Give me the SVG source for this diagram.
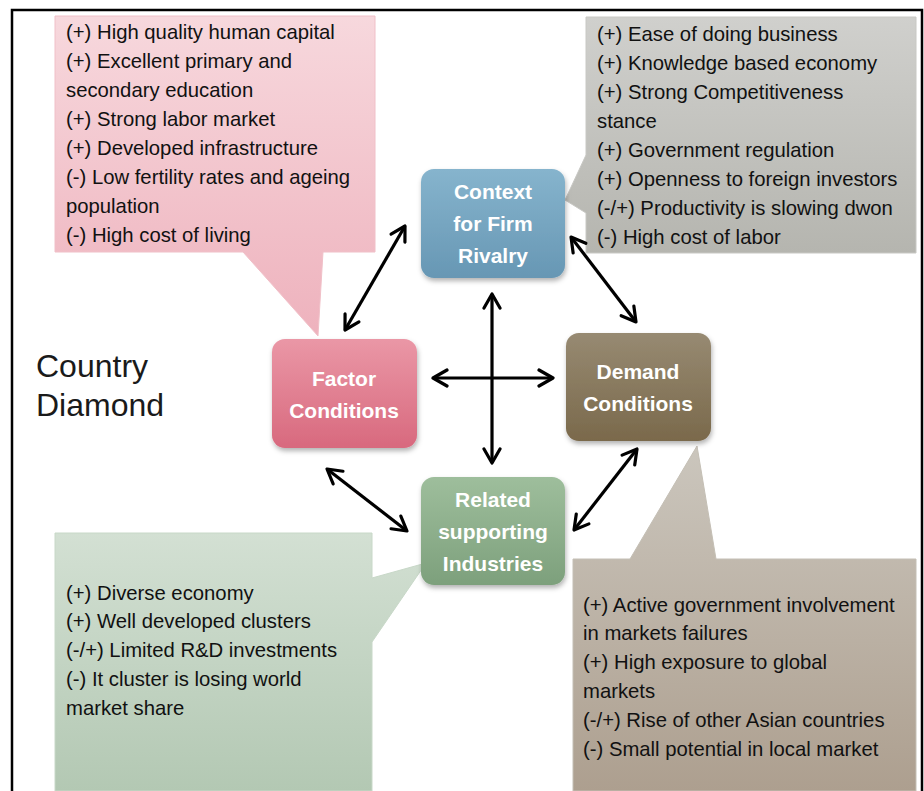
<svg xmlns="http://www.w3.org/2000/svg" width="924" height="791" viewBox="0 0 924 791">
<style>
.t{font-family:"Liberation Sans",Arial,sans-serif;font-size:20.3px;fill:#111}
.n{font-family:"Liberation Sans",Arial,sans-serif;font-size:21px;font-weight:bold;fill:#fff;text-anchor:middle}
.title{font-family:"Liberation Sans",Arial,sans-serif;font-size:32px;fill:#1a1a1a}
.c{stroke:#000;stroke-width:3.2;fill:none;marker-start:url(#h);marker-end:url(#h)}
</style>
<defs>
<marker id="h" viewBox="0 0 20 20" refX="17" refY="10" markerWidth="20" markerHeight="20" markerUnits="userSpaceOnUse" orient="auto-start-reverse">
<path d="M3,2 L17,10 L3,18" fill="none" stroke="#000" stroke-width="3.2" stroke-linecap="round" stroke-linejoin="round"/>
</marker>
<linearGradient id="gp" x1="0" y1="0" x2="0" y2="1"><stop offset="0" stop-color="#f7d8dd"/><stop offset="1" stop-color="#eeb2bd"/></linearGradient>
<linearGradient id="gg" x1="0" y1="0" x2="0" y2="1"><stop offset="0" stop-color="#d0d0cd"/><stop offset="1" stop-color="#b5b5af"/></linearGradient>
<linearGradient id="ggr" x1="0" y1="0" x2="0" y2="1"><stop offset="0" stop-color="#d3e0d3"/><stop offset="1" stop-color="#b3c8b3"/></linearGradient>
<linearGradient id="gb" x1="0" y1="0" x2="0" y2="1"><stop offset="0" stop-color="#cbc6bd"/><stop offset="1" stop-color="#ad9f8f"/></linearGradient>
<linearGradient id="nc" x1="0" y1="0" x2="0" y2="1"><stop offset="0" stop-color="#86b4cd"/><stop offset="1" stop-color="#6797b4"/></linearGradient>
<linearGradient id="nf" x1="0" y1="0" x2="0" y2="1"><stop offset="0" stop-color="#ea97a6"/><stop offset="1" stop-color="#d8697e"/></linearGradient>
<linearGradient id="nd" x1="0" y1="0" x2="0" y2="1"><stop offset="0" stop-color="#978a72"/><stop offset="1" stop-color="#7a694b"/></linearGradient>
<linearGradient id="nr" x1="0" y1="0" x2="0" y2="1"><stop offset="0" stop-color="#9ebe9c"/><stop offset="1" stop-color="#7da07c"/></linearGradient>
<filter id="sh" x="-10%" y="-10%" width="125%" height="130%"><feDropShadow dx="1" dy="3" stdDeviation="2.5" flood-color="#000" flood-opacity="0.3"/></filter>
</defs>
<rect x="0" y="0" width="924" height="791" fill="#fff"/>
<path d="M12,791 L12,10 L922,10 L922,791" fill="none" stroke="#000" stroke-width="2.5"/>

<g id="callout-factor">
<path d="M55,16 L375,16 L375,252 L323,252 L318,336 L243,252 L55,252 Z" fill="url(#gp)" stroke="#f0c0c8" stroke-width="1"/>
<text class="t" x="66" y="39">(+) High quality human capital</text>
<text class="t" x="66" y="68">(+) Excellent primary and</text>
<text class="t" x="66" y="97">secondary education</text>
<text class="t" x="66" y="126">(+) Strong labor market</text>
<text class="t" x="66" y="155">(+) Developed infrastructure</text>
<text class="t" x="66" y="184">(-) Low fertility rates and ageing</text>
<text class="t" x="66" y="213">population</text>
<text class="t" x="66" y="242">(-) High cost of living</text>
</g>

<g id="callout-context">
<path d="M586,17 L916,17 L916,253 L586,253 L586,213 L565,200 L586,155 Z" fill="url(#gg)" stroke="#c8c8c4" stroke-width="1"/>
<text class="t" x="597" y="41">(+) Ease of doing business</text>
<text class="t" x="597" y="70">(+) Knowledge based economy</text>
<text class="t" x="597" y="99">(+) Strong Competitiveness</text>
<text class="t" x="597" y="128">stance</text>
<text class="t" x="597" y="157">(+) Government regulation</text>
<text class="t" x="597" y="186">(+) Openness to foreign investors</text>
<text class="t" x="597" y="215">(-/+) Productivity is slowing dwon</text>
<text class="t" x="597" y="244">(-) High cost of labor</text>
</g>

<g id="callout-related">
<path d="M55,533 L372,533 L372,578 L426,563 L372,642 L372,791 L55,791 Z" fill="url(#ggr)" stroke="#c8d8c8" stroke-width="1"/>
<text class="t" x="66" y="600">(+) Diverse economy</text>
<text class="t" x="66" y="628">(+) Well developed clusters</text>
<text class="t" x="66" y="657">(-/+) Limited R&amp;D investments</text>
<text class="t" x="66" y="686">(-) It cluster is losing world</text>
<text class="t" x="66" y="715">market share</text>
</g>

<g id="callout-demand">
<path d="M573,559 L630,559 L697,446 L716,559 L916,559 L916,791 L573,791 Z" fill="url(#gb)" stroke="#c4bfb5" stroke-width="1"/>
<text class="t" x="583" y="612">(+) Active government involvement</text>
<text class="t" x="583" y="640">in markets failures</text>
<text class="t" x="583" y="669">(+) High exposure to global</text>
<text class="t" x="583" y="698">markets</text>
<text class="t" x="583" y="727">(-/+) Rise of other Asian countries</text>
<text class="t" x="583" y="756">(-) Small potential in local market</text>
</g>

<g id="title">
<text class="title" x="36" y="377">Country</text>
<text class="title" x="36" y="416">Diamond</text>
</g>

<g id="connectors">
<line class="c" x1="405" y1="226" x2="345" y2="330"/>
<line class="c" x1="571" y1="237" x2="636" y2="322"/>
<line class="c" x1="492" y1="294" x2="492" y2="463"/>
<line class="c" x1="433" y1="378" x2="553" y2="378"/>
<line class="c" x1="327" y1="469" x2="407" y2="531"/>
<line class="c" x1="637" y1="449" x2="574" y2="530"/>
</g>

<g id="node-context">
<rect x="421" y="169" width="144" height="109" rx="13" fill="url(#nc)" filter="url(#sh)"/>
<text class="n" x="493" y="199">Context</text>
<text class="n" x="493" y="231">for Firm</text>
<text class="n" x="493" y="263">Rivalry</text>
</g>

<g id="node-factor">
<rect x="272" y="339" width="145" height="109" rx="13" fill="url(#nf)" filter="url(#sh)"/>
<text class="n" x="344" y="386">Factor</text>
<text class="n" x="344" y="418">Conditions</text>
</g>

<g id="node-demand">
<rect x="566" y="333" width="145" height="108" rx="13" fill="url(#nd)" filter="url(#sh)"/>
<text class="n" x="638" y="379">Demand</text>
<text class="n" x="638" y="411">Conditions</text>
</g>

<g id="node-related">
<rect x="421" y="477" width="144" height="108" rx="13" fill="url(#nr)" filter="url(#sh)"/>
<text class="n" x="493" y="507">Related</text>
<text class="n" x="493" y="539">supporting</text>
<text class="n" x="493" y="571">Industries</text>
</g>
</svg>
